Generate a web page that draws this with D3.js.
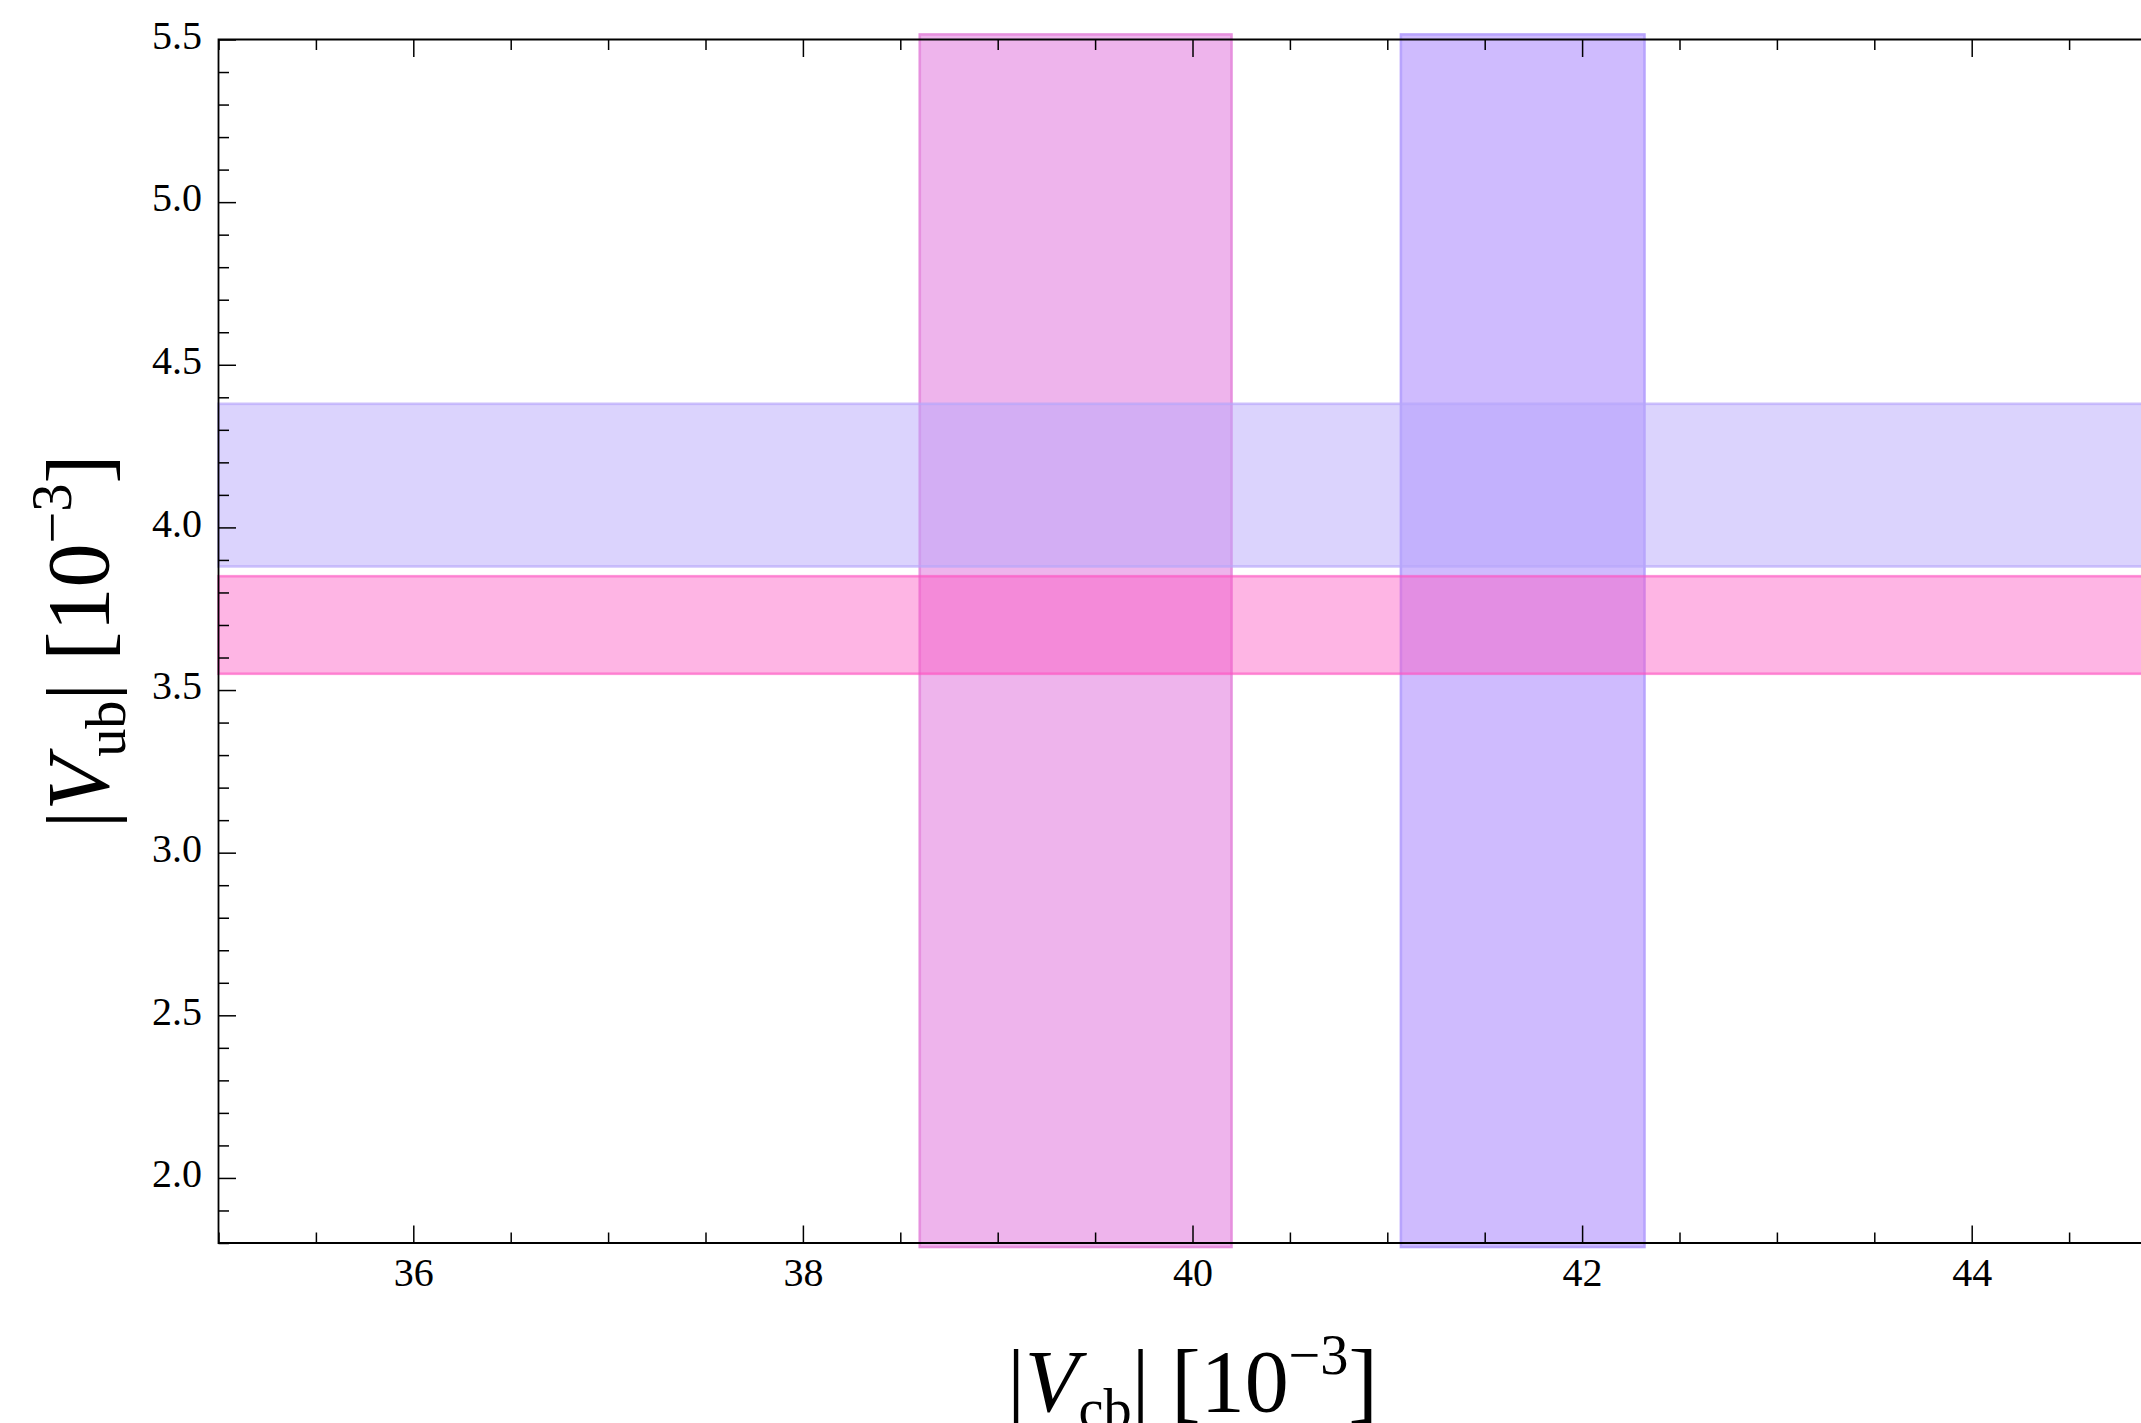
<!DOCTYPE html>
<html>
<head>
<meta charset="utf-8">
<script src="https://cdn.jsdelivr.net/npm/d3@7"></script>
<style>
    html, body { margin: 0; padding: 0; background: #ffffff; }
    svg { display: block; }
</style>
</head>
<body>
<div id="chart"></div>
<script>
// |Vcb| bands (vertical) and |Vub| bands (horizontal), in units of 10^-3
const vcbBands = [[38.60, 40.20], [41.07, 42.32]];
const vubBands = [[3.55, 3.85], [3.88, 4.38]];

const xDomain = [35, 45];
const yDomain = [1.8, 5.5];
const xMajorTicks = [36, 38, 40, 42, 44];
const yMajorTicks = [2.0, 2.5, 3.0, 3.5, 4.0, 4.5, 5.0, 5.5];
const xMinorStep = 0.5;
const yMinorStep = 0.1;

/**
 * BandChart - draws crossing error bands on a framed plot
 */
class BandChart {
    constructor(container, width, height) {
        this.width = width;
        this.height = height;
        this.svg = d3.select(container).append('svg')
            .attr('width', width)
            .attr('height', height);
        this.font = '"Liberation Serif", "Times New Roman", Times, serif';

        // plot frame; right edge lies past the picture (cropped figure)
        this.x = d3.scaleLinear().domain(xDomain).range([218.5, 2166.5]);
        this.y = d3.scaleLinear().domain(yDomain).range([1243, 39.5]);

        // fill/stroke per band, same order as the data arrays
        this.vcbStyles = [
            { fill: '#eeb4ec', stroke: '#e690de' },
            { fill: '#cfbbfe', stroke: '#b8a4fd' }
        ];
        this.vubStyles = [
            { fill: 'rgb(253,83,192)', opacity: 0.43, strokeOpacity: 0.62 },
            { fill: 'rgb(183,167,251)', opacity: 0.5, strokeOpacity: 0.68 }
        ];
    }

    render() {
        this.drawVerticalBands();
        this.drawHorizontalBands();
        this.drawAxes();
        this.drawTitles();
    }

    /**
     * Vertical |Vcb| bands, running slightly past the frame like the original
     */
    drawVerticalBands() {
        const [y0, y1] = this.y.range();
        this.svg.append('g').attr('class', 'vcb-bands')
            .selectAll('rect')
            .data(vcbBands)
            .join('rect')
            .attr('x', d => this.x(d[0]))
            .attr('width', d => this.x(d[1]) - this.x(d[0]))
            .attr('y', y1 - 5)
            .attr('height', (y0 + 4) - (y1 - 5))
            .attr('fill', (d, i) => this.vcbStyles[i].fill)
            .attr('stroke', (d, i) => this.vcbStyles[i].stroke)
            .attr('stroke-width', 2.6);
    }

    /**
     * Horizontal |Vub| bands, translucent, drawn above the vertical ones
     */
    drawHorizontalBands() {
        const x0 = this.x(xDomain[0]);
        const x1 = this.x.range()[1] + 10;
        this.svg.append('g').attr('class', 'vub-bands')
            .selectAll('rect')
            .data(vubBands)
            .join('rect')
            .attr('x', x0)
            .attr('width', x1 - x0)
            .attr('y', d => this.y(d[1]))
            .attr('height', d => this.y(d[0]) - this.y(d[1]))
            .attr('fill', (d, i) => this.vubStyles[i].fill)
            .attr('fill-opacity', (d, i) => this.vubStyles[i].opacity)
            .attr('stroke', (d, i) => this.vubStyles[i].fill)
            .attr('stroke-opacity', (d, i) => this.vubStyles[i].strokeOpacity)
            .attr('stroke-width', 2.6);
    }

    styleAxis(g) {
        g.select('.domain').remove();
        g.selectAll('.tick line')
            .attr('stroke', '#000')
            .attr('stroke-width', 1.5);
        g.selectAll('.tick text')
            .attr('fill', '#000')
            .attr('font-family', this.font)
            .attr('font-size', 40);
    }

    drawAxes() {
        const x = this.x, y = this.y;
        const xMinor = d3.range(xDomain[0], xDomain[1] + 1e-9, xMinorStep)
            .filter(v => !xMajorTicks.includes(v));
        const yMinor = d3.range(yDomain[0], yDomain[1] + 1e-9, yMinorStep)
            .map(v => +v.toFixed(1))
            .filter(v => !yMajorTicks.includes(v));
        const bottom = y.range()[0], top = y.range()[1], left = x.range()[0];

        // minor ticks
        this.svg.append('g')
            .attr('transform', `translate(0,${bottom})`)
            .call(d3.axisBottom(x).tickValues(xMinor).tickSize(-10.5).tickFormat(''))
            .call(g => this.styleAxis(g));
        this.svg.append('g')
            .attr('transform', `translate(0,${top})`)
            .call(d3.axisTop(x).tickValues(xMinor).tickSize(-10.5).tickFormat(''))
            .call(g => this.styleAxis(g));
        this.svg.append('g')
            .attr('transform', `translate(${left},0)`)
            .call(d3.axisLeft(y).tickValues(yMinor).tickSize(-10.5).tickFormat(''))
            .call(g => this.styleAxis(g));

        // major ticks
        this.svg.append('g')
            .attr('transform', `translate(0,${bottom})`)
            .call(d3.axisBottom(x).tickValues(xMajorTicks).tickSize(-17.5)
                .tickPadding(14.6).tickFormat(d3.format('d')))
            .call(g => this.styleAxis(g));
        this.svg.append('g')
            .attr('transform', `translate(0,${top})`)
            .call(d3.axisTop(x).tickValues(xMajorTicks).tickSize(-17.5).tickFormat(''))
            .call(g => this.styleAxis(g));
        this.svg.append('g')
            .attr('transform', `translate(${left},0)`)
            .call(d3.axisLeft(y).tickValues(yMajorTicks).tickSize(-17.5)
                .tickPadding(16.5).tickFormat(d3.format('.1f')))
            .call(g => this.styleAxis(g))
            .call(g => g.selectAll('.tick text').attr('dy', '0.22em'));

        // frame: left, bottom and top spines (right one is outside the picture)
        const right = this.width + 5;
        this.svg.append('path')
            .attr('d', `M${right},${top}H${left}V${bottom}H${right}`)
            .attr('fill', 'none')
            .attr('stroke', '#000')
            .attr('stroke-width', 1.8);
    }

    /**
     * Axis title like |V_sub| [10^-3]
     */
    addTitle(g, sub) {
        const t = g.append('text')
            .attr('text-anchor', 'middle')
            .attr('font-family', this.font)
            .attr('font-size', 88)
            .attr('fill', '#000');
        t.append('tspan').text('|');
        t.append('tspan').attr('font-style', 'italic').text('V');
        t.append('tspan').attr('font-size', '64%').attr('dy', 17).text(sub);
        t.append('tspan').attr('dy', -17).text('| [10');
        t.append('tspan').attr('font-size', '64%').attr('dy', -37).text('\u22123');
        t.append('tspan').attr('dy', 37).text(']');
    }

    drawTitles() {
        const cx = (this.x.range()[0] + this.x.range()[1]) / 2;
        const cy = (this.y.range()[0] + this.y.range()[1]) / 2;
        this.addTitle(this.svg.append('g')
            .attr('transform', `translate(${cx},1411)`), 'cb');
        this.addTitle(this.svg.append('g')
            .attr('transform', `translate(108,${cy}) rotate(-90)`), 'ub');
    }
}

const chart = new BandChart('#chart', 2141, 1423);
chart.render();
</script>
</body>
</html>
